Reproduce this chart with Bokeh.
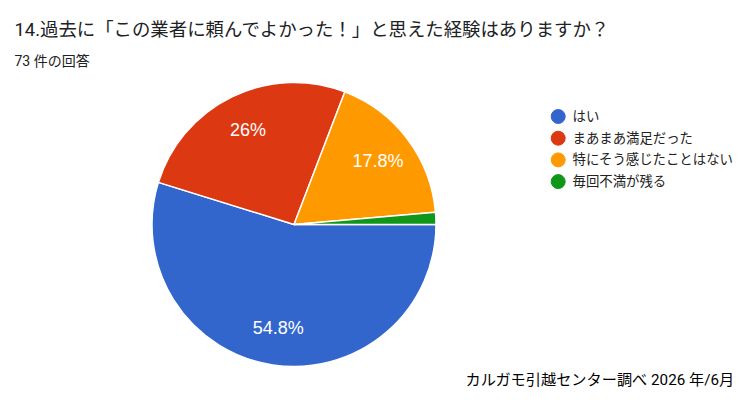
import math
from bokeh.plotting import figure
from bokeh.models import Range1d, ColumnDataSource
from bokeh.core.properties import value
from bokeh.embed import file_html
from bokeh.resources import INLINE

title = "14.過去に「この業者に頼んでよかった！」と思えた経験はありますか？"
subtitle = "73 件の回答"
categories = ["はい", "まあまあ満足だった", "特にそう感じたことはない", "毎回不満が残る"]
counts = [40, 19, 13, 1]
colors = ["#3366CC", "#DC3912", "#FF9900", "#109618"]
credit = "カルガモ引越センター調べ\u00a02026 年/6月"

W, H = 742, 392
p = figure(width=W, height=H, x_range=Range1d(0, W), y_range=Range1d(0, H),
           output_backend="svg", toolbar_location=None, min_border=0)
p.axis.visible = False
p.grid.visible = False
p.outline_line_color = None
p.background_fill_color = "white"

cx, cy, R = 293.5, H - 224.0, 142.0
total = sum(counts)
fracs = [c / total for c in counts]
starts, ends, mids = [], [], []
acc = 0.0
for f in fracs:
    s = -acc * 2 * math.pi
    acc += f
    e = -acc * 2 * math.pi
    starts.append(s)
    ends.append(e)
    mids.append((s + e) / 2)

src = ColumnDataSource(dict(x=[cx] * len(counts), y=[cy] * len(counts),
                            start=starts, end=ends, color=colors))
p.wedge(x="x", y="y", radius=R, start_angle="start", end_angle="end",
        direction="clock", fill_color="color", line_color="white",
        line_width=1.5, source=src)

lx, ly, lt = [], [], []
for f, m in zip(fracs, mids):
    if f < 0.05:
        continue
    lx.append(cx + 0.74 * R * math.cos(m))
    ly.append(cy + 0.74 * R * math.sin(m))
    lt.append(f"{round(f * 100, 1):g}%")
p.text(x=lx, y=ly, text=lt, text_color="white", text_font_size="18px",
       text_font=value("Liberation Sans"), text_align="center",
       text_baseline="middle")

font = value("Roboto, 'Noto Sans CJK JP'")
p.text(x=[14], y=[H - 29], text=[title], text_font=font, text_font_size="18.4px",
       text_color="#202124", text_baseline="middle")
p.text(x=[14], y=[H - 60], text=[subtitle], text_font=font, text_font_size="14px",
       text_color="#202124", text_baseline="middle")

ys = [H - 116 - i * 21.7 for i in range(len(categories))]
p.scatter(x=[557.7] * len(categories), y=ys, size=14, color=colors)
p.text(x=[572] * len(categories), y=ys, text=categories, text_font=font,
       text_font_size="13.4px", text_color="#222222", text_baseline="middle")

p.text(x=[465], y=[H - 379], text=[credit], text_font=font, text_font_size="15.2px",
       text_color="#000000", text_baseline="middle")

open("out.html", "w").write(file_html(p, INLINE))
